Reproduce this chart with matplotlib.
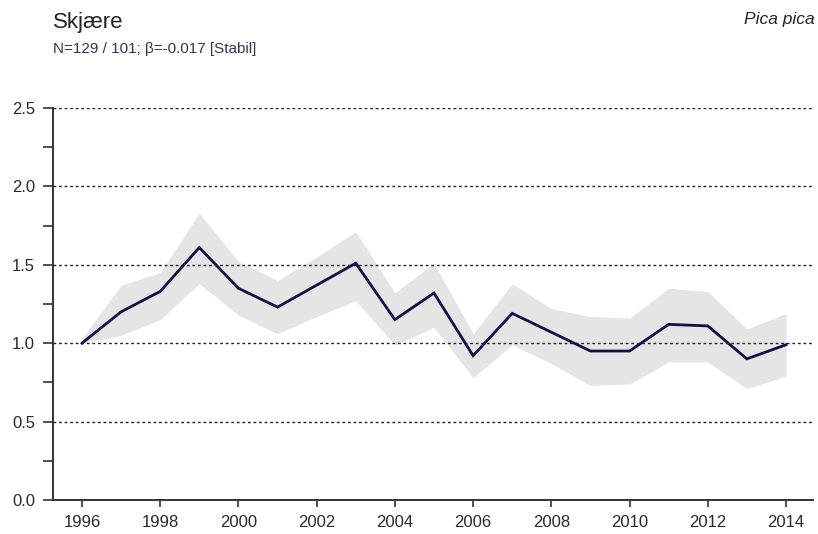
import matplotlib
matplotlib.use("Agg")
import matplotlib.pyplot as plt
from matplotlib.ticker import MultipleLocator

plt.rcParams['font.family'] = ['Liberation Sans', 'DejaVu Sans']

# Yearly index values relative to 1996, with lower/upper confidence limits
years = [1996, 1997, 1998, 1999, 2000, 2001, 2002, 2003, 2004, 2005,
         2006, 2007, 2008, 2009, 2010, 2011, 2012, 2013, 2014]
index = [1.00, 1.20, 1.33, 1.61, 1.35, 1.23, 1.37, 1.51, 1.15, 1.32,
         0.92, 1.19, 1.07, 0.95, 0.95, 1.12, 1.11, 0.90, 0.99]
lower = [1.00, 1.05, 1.15, 1.38, 1.18, 1.06, 1.17, 1.27, 0.99, 1.10,
         0.78, 0.99, 0.87, 0.73, 0.74, 0.88, 0.88, 0.71, 0.79]
upper = [1.03, 1.37, 1.45, 1.83, 1.52, 1.40, 1.55, 1.71, 1.32, 1.51,
         1.06, 1.38, 1.22, 1.17, 1.16, 1.35, 1.33, 1.09, 1.19]

y_ticks = [0.0, 0.5, 1.0, 1.5, 2.0, 2.5]
x_ticks = [1996, 1998, 2000, 2002, 2004, 2006, 2008, 2010, 2012, 2014]

title = "Skjære"
subtitle = "N=129 / 101; β=-0.017 [Stabil]"
species = "Pica pica"

fig = plt.figure(figsize=(8.18, 5.34), dpi=100)
ax = fig.add_axes([0.0648, 0.0637, 0.9291, 0.7341])

ax.fill_between(years, lower, upper, color='#e5e5e5', linewidth=0, zorder=1)
for y in y_ticks[1:]:
    ax.axhline(y, color='#222222', linewidth=1.0, dashes=(2, 2), zorder=2)
ax.plot(years, index, color='#111144', linewidth=2.0, zorder=3,
        solid_joinstyle='miter')

ax.set_xlim(1995.26, 2014.69)
ax.set_ylim(0, 2.5)

ax.set_yticks(y_ticks)
ax.set_yticklabels([f"{v:.1f}" for v in y_ticks])
ax.yaxis.set_minor_locator(MultipleLocator(0.25))
ax.set_xticks(x_ticks)
ax.set_xticklabels([str(v) for v in x_ticks])

for side in ('top', 'right'):
    ax.spines[side].set_visible(False)
for side in ('left', 'bottom'):
    ax.spines[side].set_color('#333333')
    ax.spines[side].set_linewidth(1.4)

ax.tick_params(axis='y', which='both', direction='out', length=7,
               width=1.2, color='#333333', labelsize=12,
               labelcolor='#2a2a2a', pad=6)
ax.tick_params(axis='x', which='major', direction='out', length=5,
               width=1.2, color='#333333', labelsize=12,
               labelcolor='#2a2a2a', pad=6)

fig.text(53 / 818, 1 - 28 / 534, title, fontsize=16, color='#222222',
         ha='left', va='baseline')
fig.text(53 / 818, 1 - 53 / 534, subtitle, fontsize=11, color='#34345e',
         ha='left', va='baseline')
fig.text(815 / 818, 1 - 24 / 534, species, fontsize=12.5, style='italic',
         color='#222222', ha='right', va='baseline')

fig.savefig("out.png", dpi=100)
